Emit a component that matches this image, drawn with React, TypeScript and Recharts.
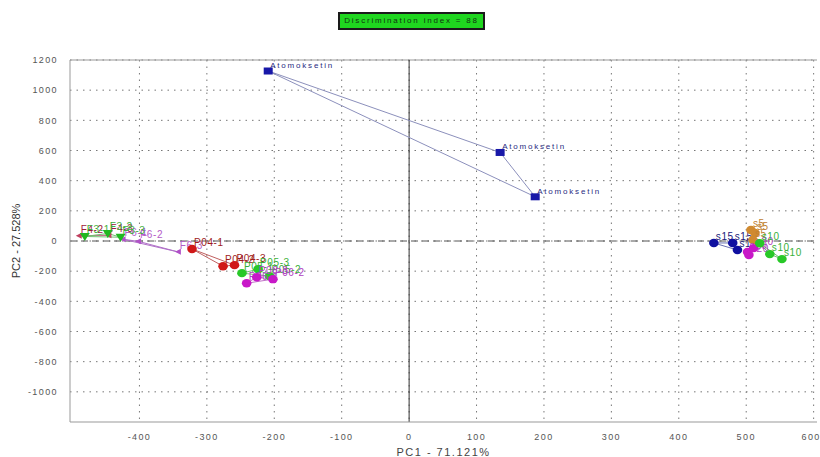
import React from "react";
import {
	CartesianGrid,
	ReferenceLine,
	Scatter,
	ScatterChart,
	XAxis,
	YAxis,
} from "recharts";

// PCA scores (PC1, PC2)
const xTicks = [-400, -300, -200, -100, 0, 100, 200, 300, 400, 500, 600];
const yTicks = [-1000, -800, -600, -400, -200, 0, 200, 400, 600, 800, 1000, 1200];

const atomoksetin = [
	{ x: -209, y: 1127, name: "Atomoksetin" },
	{ x: 135, y: 587, name: "Atomoksetin" },
	{ x: 187, y: 293, name: "Atomoksetin" },
];
const f4 = [
	{ x: -490, y: 35, name: "F4-2" },
	{ x: -446, y: 38, name: "F4-3" },
];
const f3 = [
	{ x: -481, y: 30, name: "F3-1" },
	{ x: -447, y: 50, name: "F3-2" },
	{ x: -428, y: 25, name: "F3-3" },
];
const f6 = [
	{ x: -425, y: 12, name: "F6-1" },
	{ x: -402, y: -2, name: "F6-2" },
	{ x: -343, y: -72, name: "F6-3" },
];
const p04 = [
	{ x: -322, y: -53, name: "P04-1" },
	{ x: -276, y: -167, name: "P04-2" },
	{ x: -259, y: -160, name: "P04-3" },
];
const p05 = [
	{ x: -248, y: -213, name: "P05-1" },
	{ x: -224, y: -187, name: "P05-3" },
	{ x: -207, y: -233, name: "P05-2" },
];
const p06 = [
	{ x: -241, y: -280, name: "P06-1" },
	{ x: -226, y: -240, name: "P06-3" },
	{ x: -202, y: -253, name: "P06-2" },
];
const s15 = [
	{ x: 452, y: -13, name: "s15" },
	{ x: 480, y: -13, name: "s15" },
	{ x: 487, y: -60, name: "s15" },
];
const s5 = [
	{ x: 507, y: 73, name: "s5" },
	{ x: 513, y: 53, name: "s5" },
	{ x: 510, y: 7, name: "s5" },
];
const s20 = [
	{ x: 502, y: -73, name: "s20" },
	{ x: 504, y: -93, name: "s20" },
	{ x: 511, y: -47, name: "s20" },
];
const s10 = [
	{ x: 520, y: -15, name: "s10" },
	{ x: 535, y: -87, name: "s10" },
	{ x: 553, y: -120, name: "s10" },
];

const font = "'Liberation Sans', Arial, sans-serif";

// marker + its text label, drawn together
const makeShape = (kind: string, color: string, labelColor: string) => (props: any) => {
	const { cx, cy } = props;
	const name = props.payload?.name ?? props.name;
	let mark;
	if (kind === "square") {
		mark = <rect x={cx - 4.5} y={cy - 3.5} width={9} height={7} fill={color} />;
	} else if (kind === "tri") {
		mark = (
			<polygon
				points={`${cx - 5},${cy - 3.5} ${cx + 5},${cy - 3.5} ${cx},${cy + 4.5}`}
				fill={color}
			/>
		);
	} else if (kind === "small") {
		mark = (
			<polygon
				points={`${cx - 3},${cy} ${cx + 3},${cy - 3} ${cx + 3},${cy + 3}`}
				fill={color}
			/>
		);
	} else {
		mark = <ellipse cx={cx} cy={cy} rx={4.8} ry={4.2} fill={color} />;
	}
	return (
		<g>
			{mark}
			<text
				x={cx + 2}
				y={cy - 3}
				fill={labelColor}
				fontSize={kind === "square" ? 8 : 10}
				fontFamily={font}
				letterSpacing={kind === "square" ? 1.8 : 0.6}>
				{name}
			</text>
		</g>
	);
};

const noShape = () => <g />;

const groups = [
	{ key: "atom", data: atomoksetin, kind: "square", color: "#1818a8", label: "#2a2a80", line: "#8c90bc" },
	{ key: "f4", data: f4, kind: "small", color: "#c04060", label: "#a0203a", line: "#c87090" },
	{ key: "f6", data: f6, kind: "small", color: "#b050c8", label: "#b45cc8", line: "#b070c8" },
	{ key: "f3", data: f3, kind: "tri", color: "#20b820", label: "#40b040", line: "#70c070" },
	{ key: "p04", data: p04, kind: "circle", color: "#d01818", label: "#a01c1c", line: "#c06060" },
	{ key: "p05", data: p05, kind: "circle", color: "#28c828", label: "#38b038", line: "#70c070" },
	{ key: "p06", data: p06, kind: "circle", color: "#c818c8", label: "#b040c0", line: "#c070c8" },
	{ key: "s15", data: s15, kind: "circle", color: "#1010a0", label: "#20207a", line: "#6870b0" },
	{ key: "s5", data: s5, kind: "circle", color: "#d08a30", label: "#c08030", line: "#d0a070" },
	{ key: "s20", data: s20, kind: "circle", color: "#c818c8", label: "#b040c0", line: "#c070c8" },
	{ key: "s10", data: s10, kind: "circle", color: "#28c828", label: "#38b038", line: "#70c070" },
];

const tickStyle = { fontSize: 9, fill: "#555", fontFamily: font, letterSpacing: 1.4 };

export default function App() {
	return (
		<div
			style={{
				position: "absolute",
				left: 0,
				top: 0,
				width: 820,
				height: 457,
				background: "#fff",
			}}>
			<div
				style={{
					position: "absolute",
					left: 338,
					top: 12,
					width: 143,
					height: 14,
					background: "#1fd61f",
					border: "2px solid #1a1a1a",
					fontFamily: font,
					fontSize: 8,
					letterSpacing: 1.8,
					color: "#123312",
					textAlign: "center",
					lineHeight: "14px",
				}}>
				Discrimination index = 88
			</div>
			<ScatterChart
				width={820}
				height={457}
				margin={{ top: 60, right: 3, bottom: 0, left: 10 }}>
				<CartesianGrid
					stroke="#777"
					strokeDasharray="1.5 5"
					horizontalValues={yTicks}
					verticalValues={xTicks}
				/>
				<XAxis
					type="number"
					dataKey="x"
					domain={[-503, 605]}
					ticks={xTicks}
					allowDataOverflow
					height={35}
					tickLine={false}
					axisLine={{ stroke: "#999" }}
					tick={tickStyle}
					tickMargin={6}
					label={{
						value: "PC1 - 71.121%",
						position: "insideBottom",
						offset: 1,
						style: { fontSize: 11, fill: "#444", fontFamily: font, letterSpacing: 1.5 },
					}}
				/>
				<YAxis
					type="number"
					dataKey="y"
					domain={[-1200, 1200]}
					ticks={yTicks}
					allowDataOverflow
					width={60}
					tickLine={false}
					axisLine={{ stroke: "#999" }}
					tick={tickStyle}
					tickMargin={6}
					label={{
						value: "PC2 - 27.528%",
						angle: -90,
						position: "insideLeft",
						offset: 6,
						style: { fontSize: 11, fill: "#333", fontFamily: font, textAnchor: "middle" },
					}}
				/>
				<ReferenceLine y={1200} stroke="#999" />
				<ReferenceLine x={0} stroke="#333" />
				<ReferenceLine y={0} stroke="#555" strokeDasharray="7 4" />
				{groups.map((g) => (
					<Scatter
						key={g.key + "-line"}
						data={[...g.data, g.data[0]]}
						line={{ stroke: g.line, strokeWidth: 1 }}
						lineType="joint"
						shape={noShape}
						isAnimationActive={false}
					/>
				))}
				{groups.map((g) => (
					<Scatter
						key={g.key}
						data={g.data}
						shape={makeShape(g.kind, g.color, g.label)}
						isAnimationActive={false}
					/>
				))}
			</ScatterChart>
		</div>
	);
}
